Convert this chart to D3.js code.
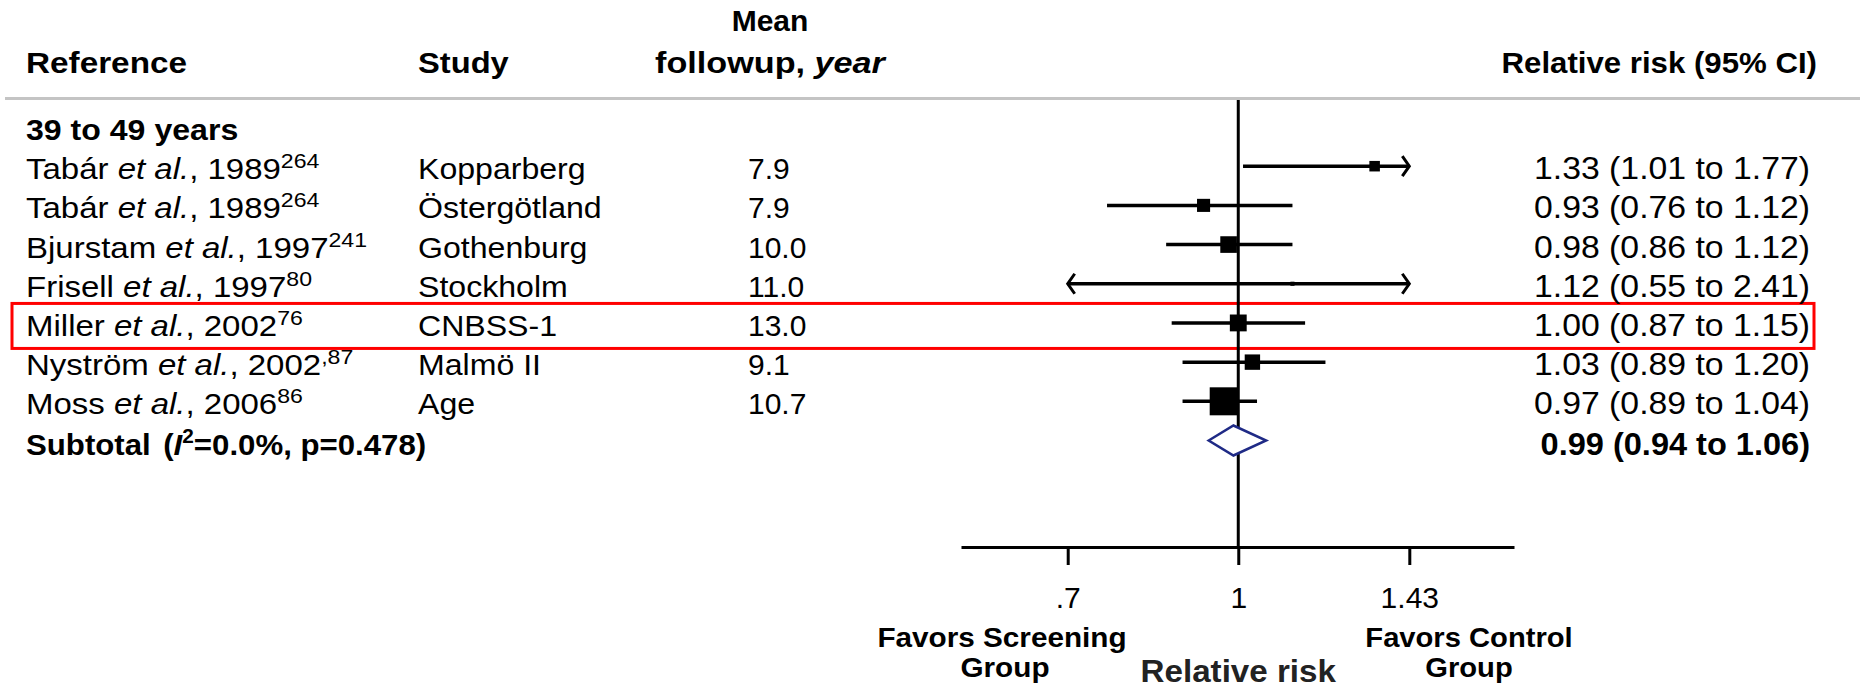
<!DOCTYPE html>
<html lang="en">
<head>
<meta charset="UTF-8">
<title>Forest plot - 39 to 49 years</title>
<script src="https://d3js.org/d3.v7.min.js"></script>
<style>
  body { margin: 0; background: #fff; }
  svg text { font-family: "Liberation Sans", Arial, sans-serif; fill: #000; }
</style>
</head>
<body>
<div id="chart"></div>
<script>
// data
const authors   = ["Tabár", "Tabár", "Bjurstam", "Frisell", "Miller", "Nyström", "Moss"];
const years     = ["1989", "1989", "1997", "1997", "2002", "2002", "2006"];
const cites     = ["264", "264", "241", "80", "76", ",87", "86"];
const studies   = ["Kopparberg", "Östergötland", "Gothenburg", "Stockholm", "CNBSS-1", "Malmö II", "Age"];
const followup  = ["7.9", "7.9", "10.0", "11.0", "13.0", "9.1", "10.7"];
const rr        = [1.33, 0.93, 0.98, 1.12, 1.00, 1.03, 0.97];
const lower     = [1.01, 0.76, 0.86, 0.55, 0.87, 0.89, 0.89];
const upper     = [1.77, 1.12, 1.12, 2.41, 1.15, 1.20, 1.04];
const weights   = [5.9, 9.1, 14.7, 0.9, 15.1, 12.6, 41.7];
const pooled    = [0.99, 0.94, 1.06];   // rr, lower, upper
const subgroup  = "39 to 49 years";
const highlighted = "Miller";
const tickValues = [0.7, 1, 1.43];
const tickLabels = [".7", "1", "1.43"];
const axisDomain = [0.56, 1.78];

const width = 1860, height = 690;

const svg = d3.select("#chart").append("svg")
    .attr("width", width)
    .attr("height", height);

const x = d3.scaleLog().domain(axisDomain).range([961, 1514]);
const y = d3.scaleLinear().domain([0, 8]).range([127, 440.5]); // row 0 = subgroup, 8 = subtotal
const side = d3.scaleSqrt().domain([0, d3.max(weights)]).range([0, 28]);
const clipLo = tickValues[0], clipHi = tickValues[tickValues.length - 1];
const f2 = d3.format(".2f");
const axisY = 547;

// the source figure's type is a little wider than Liberation Sans
const at = (px, py, sx) => `translate(${px},${py}) scale(${sx},1)`;

// column headers
const head = svg.append("g").attr("font-weight", "bold").attr("font-size", 30);
head.append("text").attr("transform", at(26, 73, 1.11)).text("Reference");
head.append("text").attr("transform", at(418, 73, 1.09)).text("Study");
head.append("text").attr("transform", at(770, 31, 1.0)).attr("text-anchor", "middle").text("Mean");
const fu = head.append("text").attr("transform", at(770, 73, 1.14)).attr("text-anchor", "middle");
fu.append("tspan").text("followup, ");
fu.append("tspan").attr("font-style", "italic").text("year");
head.append("text").attr("transform", at(1817, 73, 1.04)).attr("text-anchor", "end").text("Relative risk (95% CI)");

svg.append("line")
    .attr("x1", 5).attr("x2", width)
    .attr("y1", 98.5).attr("y2", 98.5)
    .attr("stroke", "#c4c4c4").attr("stroke-width", 3);

// subgroup label
svg.append("text")
    .attr("transform", at(26, y(0) + 13, 1.07))
    .attr("font-weight", "bold").attr("font-size", 30)
    .text(subgroup);

// highlight box
const hi = authors.indexOf(highlighted) + 1;
svg.append("rect")
    .attr("x", 12).attr("y", y(hi) - 19.5)
    .attr("width", 1802).attr("height", 45)
    .attr("fill", "none").attr("stroke", "#ff0000").attr("stroke-width", 3);

// study rows
const rows = authors.map((a, i) => ({
  author: a, year: years[i], cite: cites[i], study: studies[i], fu: followup[i],
  rr: rr[i], lo: lower[i], hi: upper[i], w: weights[i], row: i + 1
}));

const row = svg.selectAll(".row").data(rows).join("g").attr("class", "row");

const refText = row.append("text")
    .attr("transform", d => at(26, y(d.row) + 13, 1.1))
    .attr("font-size", 30);
refText.append("tspan").text(d => d.author + " ");
refText.append("tspan").attr("font-style", "italic").text("et al.");
refText.append("tspan").text(d => ", " + d.year);
refText.append("tspan").attr("font-size", 21).attr("dy", -11).text(d => d.cite);

row.append("text")
    .attr("transform", d => at(418, y(d.row) + 13, 1.07))
    .attr("font-size", 30)
    .text(d => d.study);

row.append("text")
    .attr("x", 748).attr("y", d => y(d.row) + 13)
    .attr("font-size", 30)
    .text(d => d.fu);

row.append("text")
    .attr("transform", d => at(1810, y(d.row) + 13, 1.09))
    .attr("text-anchor", "end").attr("font-size", 31)
    .text(d => `${f2(d.rr)} (${f2(d.lo)} to ${f2(d.hi)})`);

// subtotal row
const sub = svg.append("text")
    .attr("transform", at(26, y(8) + 14, 1.04))
    .attr("font-weight", "bold").attr("font-size", 30);
sub.append("tspan").text("Subtotal");
sub.append("tspan").attr("dx", 12).text("(");
sub.append("tspan").attr("font-style", "italic").text("I");
sub.append("tspan").attr("font-size", 20).attr("dy", -12).text("2");
sub.append("tspan").attr("dy", 12).text("=0.0%, p=0.478)");

svg.append("text")
    .attr("transform", at(1810, y(8) + 14, 1.05))
    .attr("text-anchor", "end").attr("font-size", 31).attr("font-weight", "bold")
    .text(`${f2(pooled[0])} (${f2(pooled[1])} to ${f2(pooled[2])})`);

// line of no effect
svg.append("line")
    .attr("x1", x(1)).attr("x2", x(1))
    .attr("y1", 100).attr("y2", axisY)
    .attr("stroke", "#000").attr("stroke-width", 3);

// confidence intervals, clipped to the outer ticks with arrows
row.append("line")
    .attr("x1", d => x(Math.max(d.lo, clipLo)))
    .attr("x2", d => x(Math.min(d.hi, clipHi)))
    .attr("y1", d => y(d.row)).attr("y2", d => y(d.row))
    .attr("stroke", "#000").attr("stroke-width", 3.5);

row.filter(d => d.hi > clipHi).append("path")
    .attr("d", d => { const xe = x(clipHi), yc = y(d.row); return `M${xe - 7},${yc - 10}L${xe},${yc}L${xe - 7},${yc + 10}`; })
    .attr("fill", "none").attr("stroke", "#000").attr("stroke-width", 3);

row.filter(d => d.lo < clipLo).append("path")
    .attr("d", d => { const xs = x(clipLo), yc = y(d.row); return `M${xs + 7},${yc - 10}L${xs},${yc}L${xs + 7},${yc + 10}`; })
    .attr("fill", "none").attr("stroke", "#000").attr("stroke-width", 3);

row.append("rect")
    .attr("x", d => x(d.rr) - side(d.w) / 2)
    .attr("y", d => y(d.row) - side(d.w) / 2)
    .attr("width", d => side(d.w))
    .attr("height", d => side(d.w))
    .attr("fill", "#000");

// pooled diamond
const yd = y(8);
svg.append("path")
    .attr("d", `M${x(pooled[1])},${yd}L${x(pooled[0])},${yd - 15}L${x(pooled[2])},${yd}L${x(pooled[0])},${yd + 15}Z`)
    .attr("fill", "#fff").attr("stroke", "#1f2a86").attr("stroke-width", 2.5);

// x axis
const axis = svg.append("g")
    .attr("transform", `translate(0,${axisY})`)
    .call(d3.axisBottom(x)
        .tickValues(tickValues)
        .tickFormat((d, i) => tickLabels[i])
        .tickSize(18)
        .tickSizeOuter(0)
        .tickPadding(22));
axis.select(".domain").attr("stroke", "#000").attr("stroke-width", 3);
axis.selectAll(".tick line").attr("stroke", "#000").attr("stroke-width", 3);
axis.selectAll(".tick text")
    .attr("font-size", 30)
    .attr("font-family", "'Liberation Sans', Arial, sans-serif")
    .attr("fill", "#111");

// axis annotations
const notes = svg.append("g").attr("font-weight", "bold").attr("font-size", 27).attr("text-anchor", "middle");
notes.append("text").attr("transform", at(1002, 647, 1.1)).text("Favors Screening");
notes.append("text").attr("transform", at(1005, 677, 1.1)).text("Group");
notes.append("text").attr("transform", at(1469, 647, 1.08)).text("Favors Control");
notes.append("text").attr("transform", at(1469, 677, 1.08)).text("Group");
notes.append("text").attr("transform", at(x(1), 682, 1.07))
    .attr("font-size", 31).style("fill", "#222").text("Relative risk");
</script>
</body>
</html>
